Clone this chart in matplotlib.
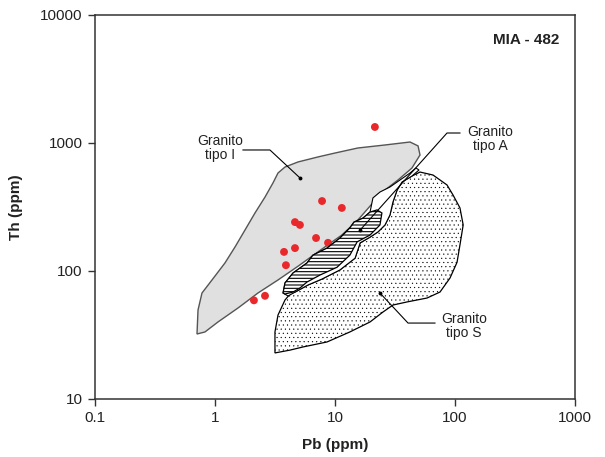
import matplotlib
matplotlib.use("Agg")
import matplotlib.pyplot as plt
from matplotlib.patches import Polygon
import numpy as np

plt.rcParams["font.family"] = ["Liberation Sans", "DejaVu Sans"]
plt.rcParams["hatch.color"] = "black"

# sample points (Pb, Th in ppm)
pb = [21.5, 7.8, 11.4, 4.64, 5.1, 6.95, 4.64, 3.76, 3.9, 8.75, 2.61, 2.11]
th = [1334, 352, 311, 241, 229, 181, 151, 141, 111, 166, 64, 59]

# field outlines (Pb, Th)
tipo_i_pb = [0.708, 0.722, 0.779, 0.944, 1.21, 1.468, 1.778, 2.154, 2.61, 3.04, 3.35,
             3.83, 4.92, 7.21, 10.0, 15.5, 26.1, 42.2, 49.2, 51.1, 43.8, 33.5, 26.1,
             20.3, 15.5, 11.4, 7.21, 4.92, 3.35, 2.28, 1.555, 1.06, 0.825]
tipo_i_th = [32.2, 49.6, 67.3, 85.1, 115.5, 154, 209, 284, 378, 487, 583,
             649, 711, 778, 835, 914, 965, 1018, 949, 806, 638, 514, 429,
             334, 250, 191, 141, 109, 85.1, 67.3, 51.4, 40.0, 33.4]

tipo_a_pb = [3.69, 3.83, 4.47, 5.84, 6.55, 8.58, 11.0, 13.3, 14.4, 17.1, 19.6, 22.4,
             24.6, 23.7, 19.6, 15.3, 13.3, 10.4, 7.50, 5.84, 5.11, 4.47, 3.83]
tipo_a_th = [67.3, 80.6, 96.5, 115.5, 133, 151, 181, 217, 241, 259, 289, 300,
             284, 229, 191, 169, 133, 107, 93, 82, 73.7, 68.5, 66.1]

# outer outline of the A field (white band)
band_pb = [3.69, 3.83, 4.47, 5.84, 6.55, 8.58, 11.0, 13.3, 14.4, 17.1, 19.6,
           20.7, 23.7, 28.7, 34.8, 42.2, 47.3, 50.1, 43.8, 36.2, 32.9, 30.4, 28.7,
           26.1, 22.8, 19.6, 16.2, 14.7, 11.0, 7.8, 5.96, 4.83, 4.06]
band_th = [67.3, 80.6, 96.5, 115.5, 133, 151, 181, 217, 241, 259, 289,
           372, 414, 453, 514, 583, 638, 615, 552, 496, 429, 346, 274,
           229, 202, 184, 166, 126, 102, 86.6, 77.8, 69.8, 63.8]

tipo_s_pb = [3.16, 3.16, 3.35, 3.83, 4.22, 4.83, 5.96, 7.8, 11.0, 14.7, 16.2, 19.6,
             22.8, 26.1, 28.7, 30.4, 32.9, 36.2, 43.8, 51.1, 65.6, 85.8, 96.2, 110,
             117, 110, 104, 90.9, 75, 58.5, 39.8, 30.4, 25.1, 19.6, 13.3, 8.58,
             5.41, 4.22]
tipo_s_th = [22.9, 33.4, 45.3, 59.3, 66.1, 69.8, 77.8, 86.6, 102, 126, 166, 184,
             202, 229, 274, 346, 429, 496, 552, 593, 562, 470, 393, 311,
             229, 160, 117, 88.2, 68.5, 61.5, 57.3, 54.2, 47.8, 40.0, 33.4, 27.9,
             25.5, 24.1]

# leader lines and labels
lead_i = ([1.71, 2.87, 5.11], [882, 882, 533])
lead_a = ([110, 85.8, 16.2], [1197, 1197, 209])
lead_s = ([68.1, 40.6, 23.7], [39.2, 39.2, 67.3])
labels = [("Granito\ntipo I", 1.10, 914), ("Granito\ntipo A", 196, 1075),
          ("Granito\ntipo S", 119, 37.2)]


def field(ax, xs, ys, hatch_lw=None, **kw):
    p = Polygon(np.column_stack([xs, ys]), closed=True, **kw)
    if hatch_lw is not None and hasattr(p, "set_hatch_linewidth"):
        p.set_hatch_linewidth(hatch_lw)
    ax.add_patch(p)
    return p


fig = plt.figure(figsize=(6.05, 4.57), dpi=100)
ax = fig.add_axes([95 / 605, 1 - 399 / 457, 480 / 605, 384 / 457])
ax.set_xscale("log")
ax.set_yscale("log")
ax.set_xlim(0.1, 1000)
ax.set_ylim(10, 10000)

field(ax, tipo_i_pb, tipo_i_th, facecolor="#e0e0e0", edgecolor="#555555", lw=1.0, zorder=1)
plt.rcParams["hatch.linewidth"] = 0.3
field(ax, tipo_s_pb, tipo_s_th, hatch_lw=0.3, facecolor="white", edgecolor="black",
      lw=0.9, hatch="....", zorder=2)
ax.scatter(pb, th, s=32, color="#e8282b", edgecolors="none", zorder=3)
field(ax, band_pb, band_th, facecolor="white", edgecolor="black", lw=0.8, zorder=4)
plt.rcParams["hatch.linewidth"] = 0.8
field(ax, tipo_a_pb, tipo_a_th, hatch_lw=0.8, facecolor="white", edgecolor="black",
      lw=0.9, hatch="-----", zorder=5)

for lx, ly in (lead_i, lead_a, lead_s):
    ax.plot(lx, ly, color="black", lw=0.8, zorder=6)
    ax.plot(lx[-1], ly[-1], "o", color="black", ms=1.8, zorder=6)

for txt, x, y in labels:
    ax.text(x, y, txt, ha="center", va="center", fontsize=10,
            linespacing=1.0, color="#222222", zorder=7)

ax.text(0.968, 0.935, "MIA - 482", transform=ax.transAxes, ha="right", va="center",
        fontsize=11, fontweight="bold", color="#222222")

ax.set_xticks([0.1, 1, 10, 100, 1000])
ax.set_xticklabels(["0.1", "1", "10", "100", "1000"])
ax.set_yticks([10, 100, 1000, 10000])
ax.set_yticklabels(["10", "100", "1000", "10000"])
ax.minorticks_off()
ax.tick_params(direction="out", length=5, width=1, color="#333333",
               labelsize=11, labelcolor="#222222", pad=4)
for sp in ax.spines.values():
    sp.set_color("#333333")
    sp.set_linewidth(1.1)

ax.set_xlabel("Pb (ppm)", fontsize=11, fontweight="bold", color="#222222", labelpad=9)
ax.set_ylabel("Th (ppm)", fontsize=11, fontweight="bold", color="#222222", labelpad=12)

fig.savefig("out.png", dpi=100)
